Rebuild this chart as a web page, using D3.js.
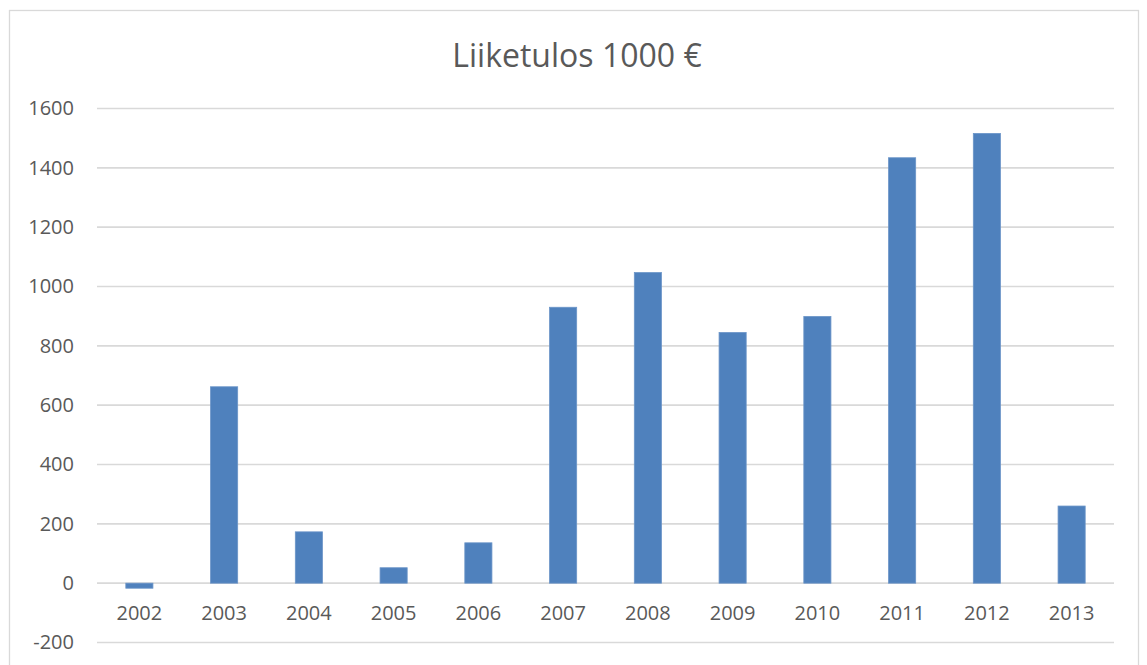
<!DOCTYPE html>
<html>
<head>
<meta charset="utf-8">
<script src="https://cdn.jsdelivr.net/npm/d3@7"></script>
<style>
  body { margin: 0; background: #fff; }
  svg text { font-family: "Open Sans", "Liberation Sans", sans-serif; fill: #595959; }
</style>
</head>
<body>
<svg id="chart" width="1147" height="665"></svg>
<script>
const years = ["2002", "2003", "2004", "2005", "2006", "2007", "2008", "2009", "2010", "2011", "2012", "2013"];
const values = [-17, 662, 173, 52, 136, 930, 1047, 845, 899, 1434, 1516, 260];
const yTicks = [-200, 0, 200, 400, 600, 800, 1000, 1200, 1400, 1600];
const title = "Liiketulos 1000 €";

const margin = {top: 108, right: 33, bottom: 22, left: 97};
const W = 1147, H = 665;
const width = W - margin.left - margin.right;

const svg = d3.select("#chart");

// chart frame
svg.append("rect")
    .attr("x", 9.5).attr("y", 10.5)
    .attr("width", 1129).attr("height", 670)
    .attr("fill", "#fff")
    .attr("stroke", "#d9d9d9")
    .attr("stroke-width", 1.3);

const y = d3.scaleLinear()
    .domain([-200, 1600])
    .range([642.5, 108.5]);

const x = d3.scaleBand()
    .domain(years)
    .range([margin.left, margin.left + width])
    .paddingInner(0.68)
    .paddingOuter(0.34);

// gridlines
svg.append("g")
    .selectAll("line")
    .data(yTicks)
    .join("line")
    .attr("x1", margin.left)
    .attr("x2", margin.left + width)
    .attr("y1", d => y(d))
    .attr("y2", d => y(d))
    .attr("stroke", "#d9d9d9")
    .attr("stroke-width", 1.6);

// y axis labels
const yAxis = svg.append("g")
    .attr("transform", `translate(74,0)`)
    .call(d3.axisLeft(y).tickValues(yTicks).tickSize(0).tickPadding(0).tickFormat(d => String(d)));
yAxis.select(".domain").remove();
yAxis.selectAll("text")
    .attr("font-size", 20)
    .style("font-family", "\"Open Sans\", \"Liberation Sans\", sans-serif")
    .attr("fill", "#595959");

// bars
svg.append("g")
    .selectAll("rect")
    .data(values)
    .join("rect")
    .attr("x", (d, i) => x(years[i]))
    .attr("width", x.bandwidth())
    .attr("y", d => Math.min(y(d), y(0)))
    .attr("height", d => Math.abs(y(d) - y(0)))
    .attr("fill", "#4f81bd")
    .attr("stroke", "#6b95c8")
    .attr("stroke-width", 0.8);

// x axis labels
svg.append("g")
    .selectAll("text")
    .data(years)
    .join("text")
    .attr("x", d => x(d) + x.bandwidth() / 2)
    .attr("y", 620)
    .attr("text-anchor", "middle")
    .attr("font-size", 20)
    .text(d => d);

// title
svg.append("text")
    .attr("x", 577)
    .attr("y", 67)
    .attr("text-anchor", "middle")
    .attr("font-size", 32)
    .text(title);
</script>
</body>
</html>
